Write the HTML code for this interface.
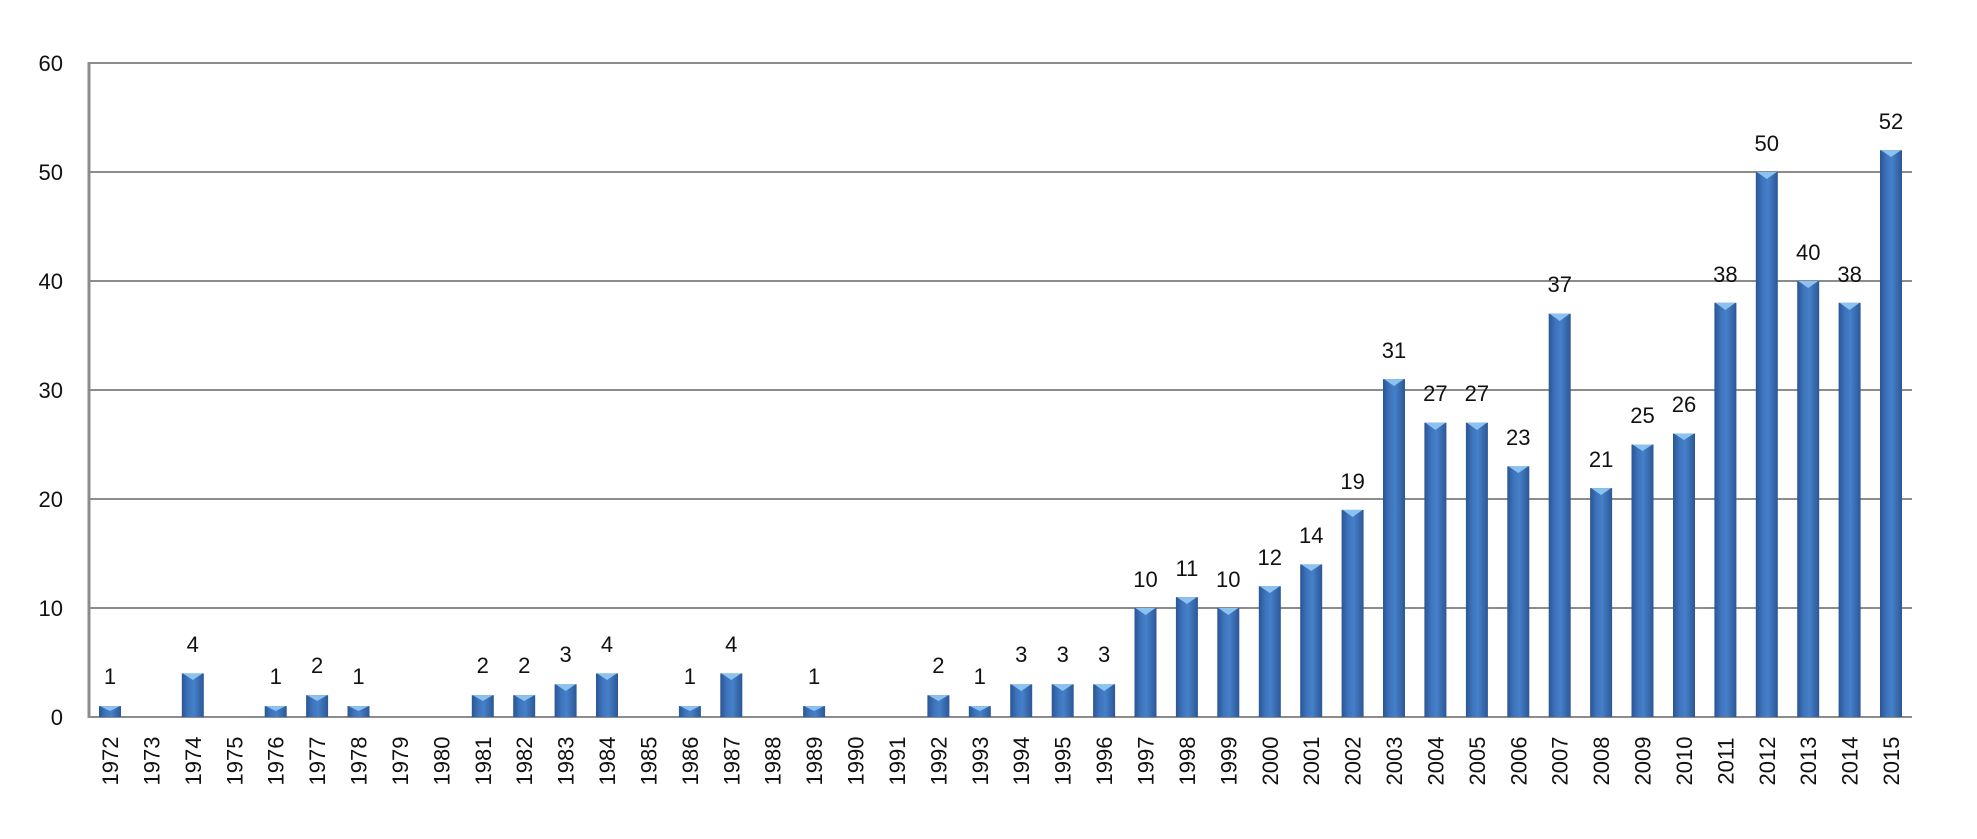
<!DOCTYPE html>
<html><head><meta charset="utf-8"><style>
html,body{margin:0;padding:0;background:#fff;}
svg{display:block;}
text{font-family:"Liberation Sans",sans-serif;fill:#111;}
</style></head><body>
<svg width="1977" height="839" viewBox="0 0 1977 839" xmlns="http://www.w3.org/2000/svg">
<defs>
<linearGradient id="bg" x1="0" x2="1" y1="0" y2="0">
<stop offset="0" stop-color="#2b5593"/>
<stop offset="0.3" stop-color="#3d74bd"/>
<stop offset="0.55" stop-color="#4580c9"/>
<stop offset="1" stop-color="#2c5796"/>
</linearGradient>
<symbol id="chev" viewBox="0 0 22 8" overflow="visible"><polygon points="1,0 21,0 11,7" fill="#8cc2ef"/></symbol>
</defs>
<g stroke="#8c8c8c" stroke-width="2">
<line x1="89" y1="63" x2="1912" y2="63"/>
<line x1="89" y1="172" x2="1912" y2="172"/>
<line x1="89" y1="281" x2="1912" y2="281"/>
<line x1="89" y1="390" x2="1912" y2="390"/>
<line x1="89" y1="499" x2="1912" y2="499"/>
<line x1="89" y1="608" x2="1912" y2="608"/>
<line x1="89" y1="717" x2="1912" y2="717"/>
</g>
<line x1="89" y1="62" x2="89" y2="718" stroke="#8c8c8c" stroke-width="3"/>
<g font-size="22" text-anchor="end">
<text x="63" y="71">60</text><text x="63" y="180">50</text><text x="63" y="289">40</text>
<text x="63" y="398">30</text><text x="63" y="507">20</text><text x="63" y="616">10</text><text x="63" y="725">0</text>
</g>
<g fill="url(#bg)">
<rect x="99" y="706.1" width="22" height="10.9"/>
<rect x="181.8" y="673.4" width="22" height="43.6"/>
<rect x="264.7" y="706.1" width="22" height="10.9"/>
<rect x="306.1" y="695.2" width="22" height="21.8"/>
<rect x="347.5" y="706.1" width="22" height="10.9"/>
<rect x="471.8" y="695.2" width="22" height="21.8"/>
<rect x="513.2" y="695.2" width="22" height="21.8"/>
<rect x="554.6" y="684.3" width="22" height="32.7"/>
<rect x="596" y="673.4" width="22" height="43.6"/>
<rect x="678.9" y="706.1" width="22" height="10.9"/>
<rect x="720.3" y="673.4" width="22" height="43.6"/>
<rect x="803.1" y="706.1" width="22" height="10.9"/>
<rect x="927.4" y="695.2" width="22" height="21.8"/>
<rect x="968.8" y="706.1" width="22" height="10.9"/>
<rect x="1010.2" y="684.3" width="22" height="32.7"/>
<rect x="1051.7" y="684.3" width="22" height="32.7"/>
<rect x="1093.1" y="684.3" width="22" height="32.7"/>
<rect x="1134.5" y="608" width="22" height="109"/>
<rect x="1175.9" y="597.1" width="22" height="119.9"/>
<rect x="1217.3" y="608" width="22" height="109"/>
<rect x="1258.8" y="586.2" width="22" height="130.8"/>
<rect x="1300.2" y="564.4" width="22" height="152.6"/>
<rect x="1341.6" y="509.9" width="22" height="207.1"/>
<rect x="1383" y="379.1" width="22" height="337.9"/>
<rect x="1424.4" y="422.7" width="22" height="294.3"/>
<rect x="1465.9" y="422.7" width="22" height="294.3"/>
<rect x="1507.3" y="466.3" width="22" height="250.7"/>
<rect x="1548.7" y="313.7" width="22" height="403.3"/>
<rect x="1590.1" y="488.1" width="22" height="228.9"/>
<rect x="1631.5" y="444.5" width="22" height="272.5"/>
<rect x="1673" y="433.6" width="22" height="283.4"/>
<rect x="1714.4" y="302.8" width="22" height="414.2"/>
<rect x="1755.8" y="172" width="22" height="545"/>
<rect x="1797.2" y="281" width="22" height="436"/>
<rect x="1838.6" y="302.8" width="22" height="414.2"/>
<rect x="1880" y="150.2" width="22" height="566.8"/>
</g>
<g fill="#8cc2ef">
<polygon points="100,706.1 120,706.1 110,711"/>
<polygon points="182.8,673.4 202.8,673.4 192.8,680"/>
<polygon points="265.7,706.1 285.7,706.1 275.7,711"/>
<polygon points="307.1,695.2 327.1,695.2 317.1,701"/>
<polygon points="348.5,706.1 368.5,706.1 358.5,711"/>
<polygon points="472.8,695.2 492.8,695.2 482.8,701"/>
<polygon points="514.2,695.2 534.2,695.2 524.2,701"/>
<polygon points="555.6,684.3 575.6,684.3 565.6,691"/>
<polygon points="597,673.4 617,673.4 607,680"/>
<polygon points="679.9,706.1 699.9,706.1 689.9,711"/>
<polygon points="721.3,673.4 741.3,673.4 731.3,680"/>
<polygon points="804.1,706.1 824.1,706.1 814.1,711"/>
<polygon points="928.4,695.2 948.4,695.2 938.4,701"/>
<polygon points="969.8,706.1 989.8,706.1 979.8,711"/>
<polygon points="1011.2,684.3 1031.2,684.3 1021.2,691"/>
<polygon points="1052.7,684.3 1072.7,684.3 1062.7,691"/>
<polygon points="1094.1,684.3 1114.1,684.3 1104.1,691"/>
<polygon points="1135.5,608 1155.5,608 1145.5,615"/>
<polygon points="1176.9,597.1 1196.9,597.1 1186.9,604"/>
<polygon points="1218.3,608 1238.3,608 1228.3,615"/>
<polygon points="1259.8,586.2 1279.8,586.2 1269.8,593"/>
<polygon points="1301.2,564.4 1321.2,564.4 1311.2,571"/>
<polygon points="1342.6,509.9 1362.6,509.9 1352.6,517"/>
<polygon points="1384,379.1 1404,379.1 1394,386"/>
<polygon points="1425.4,422.7 1445.4,422.7 1435.4,430"/>
<polygon points="1466.9,422.7 1486.9,422.7 1476.9,430"/>
<polygon points="1508.3,466.3 1528.3,466.3 1518.3,473"/>
<polygon points="1549.7,313.7 1569.7,313.7 1559.7,321"/>
<polygon points="1591.1,488.1 1611.1,488.1 1601.1,495"/>
<polygon points="1632.5,444.5 1652.5,444.5 1642.5,451"/>
<polygon points="1674,433.6 1694,433.6 1684,440"/>
<polygon points="1715.4,302.8 1735.4,302.8 1725.4,310"/>
<polygon points="1756.8,172 1776.8,172 1766.8,179"/>
<polygon points="1798.2,281 1818.2,281 1808.2,288"/>
<polygon points="1839.6,302.8 1859.6,302.8 1849.6,310"/>
<polygon points="1881,150.2 1901,150.2 1891,157"/>
</g>
<g font-size="22" text-anchor="middle">
<text x="110" y="684">1</text>
<text x="192.8" y="652">4</text>
<text x="275.7" y="684">1</text>
<text x="317.1" y="673">2</text>
<text x="358.5" y="684">1</text>
<text x="482.8" y="673">2</text>
<text x="524.2" y="673">2</text>
<text x="565.6" y="662">3</text>
<text x="607" y="652">4</text>
<text x="689.9" y="684">1</text>
<text x="731.3" y="652">4</text>
<text x="814.1" y="684">1</text>
<text x="938.4" y="673">2</text>
<text x="979.8" y="684">1</text>
<text x="1021.2" y="662">3</text>
<text x="1062.7" y="662">3</text>
<text x="1104.1" y="662">3</text>
<text x="1145.5" y="587">10</text>
<text x="1186.9" y="576">11</text>
<text x="1228.3" y="587">10</text>
<text x="1269.8" y="565">12</text>
<text x="1311.2" y="543">14</text>
<text x="1352.6" y="489">19</text>
<text x="1394" y="358">31</text>
<text x="1435.4" y="401">27</text>
<text x="1476.9" y="401">27</text>
<text x="1518.3" y="445">23</text>
<text x="1559.7" y="292">37</text>
<text x="1601.1" y="467">21</text>
<text x="1642.5" y="423">25</text>
<text x="1684" y="412">26</text>
<text x="1725.4" y="282">38</text>
<text x="1766.8" y="151">50</text>
<text x="1808.2" y="260">40</text>
<text x="1849.6" y="282">38</text>
<text x="1891" y="129">52</text>
</g>
<g font-size="22" text-anchor="middle">
<text transform="translate(118,761) rotate(-90)">1972</text>
<text transform="translate(159.4,761) rotate(-90)">1973</text>
<text transform="translate(200.8,761) rotate(-90)">1974</text>
<text transform="translate(242.3,761) rotate(-90)">1975</text>
<text transform="translate(283.7,761) rotate(-90)">1976</text>
<text transform="translate(325.1,761) rotate(-90)">1977</text>
<text transform="translate(366.5,761) rotate(-90)">1978</text>
<text transform="translate(407.9,761) rotate(-90)">1979</text>
<text transform="translate(449.4,761) rotate(-90)">1980</text>
<text transform="translate(490.8,761) rotate(-90)">1981</text>
<text transform="translate(532.2,761) rotate(-90)">1982</text>
<text transform="translate(573.6,761) rotate(-90)">1983</text>
<text transform="translate(615,761) rotate(-90)">1984</text>
<text transform="translate(656.5,761) rotate(-90)">1985</text>
<text transform="translate(697.9,761) rotate(-90)">1986</text>
<text transform="translate(739.3,761) rotate(-90)">1987</text>
<text transform="translate(780.7,761) rotate(-90)">1988</text>
<text transform="translate(822.1,761) rotate(-90)">1989</text>
<text transform="translate(863.6,761) rotate(-90)">1990</text>
<text transform="translate(905,761) rotate(-90)">1991</text>
<text transform="translate(946.4,761) rotate(-90)">1992</text>
<text transform="translate(987.8,761) rotate(-90)">1993</text>
<text transform="translate(1029.2,761) rotate(-90)">1994</text>
<text transform="translate(1070.7,761) rotate(-90)">1995</text>
<text transform="translate(1112.1,761) rotate(-90)">1996</text>
<text transform="translate(1153.5,761) rotate(-90)">1997</text>
<text transform="translate(1194.9,761) rotate(-90)">1998</text>
<text transform="translate(1236.3,761) rotate(-90)">1999</text>
<text transform="translate(1277.8,761) rotate(-90)">2000</text>
<text transform="translate(1319.2,761) rotate(-90)">2001</text>
<text transform="translate(1360.6,761) rotate(-90)">2002</text>
<text transform="translate(1402,761) rotate(-90)">2003</text>
<text transform="translate(1443.4,761) rotate(-90)">2004</text>
<text transform="translate(1484.9,761) rotate(-90)">2005</text>
<text transform="translate(1526.3,761) rotate(-90)">2006</text>
<text transform="translate(1567.7,761) rotate(-90)">2007</text>
<text transform="translate(1609.1,761) rotate(-90)">2008</text>
<text transform="translate(1650.5,761) rotate(-90)">2009</text>
<text transform="translate(1692,761) rotate(-90)">2010</text>
<text transform="translate(1733.4,761) rotate(-90)">2011</text>
<text transform="translate(1774.8,761) rotate(-90)">2012</text>
<text transform="translate(1816.2,761) rotate(-90)">2013</text>
<text transform="translate(1857.6,761) rotate(-90)">2014</text>
<text transform="translate(1899,761) rotate(-90)">2015</text>
</g>
</svg>
</body></html>
